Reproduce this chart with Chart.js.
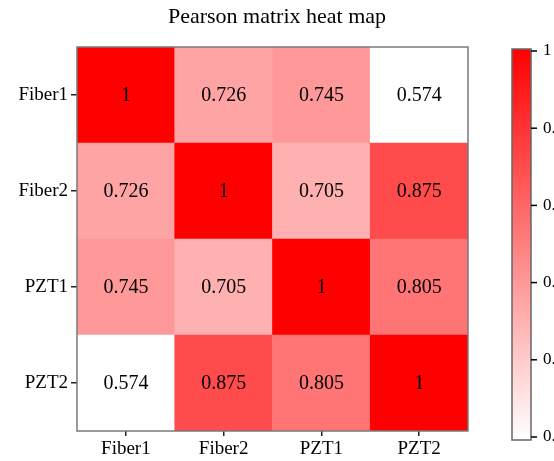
<!DOCTYPE html>
<html>
<head>
<meta charset="utf-8">
<script src="https://cdn.jsdelivr.net/npm/chart.js@4"></script>
<style>
  html, body { margin: 0; padding: 0; background: #fff; }
</style>
</head>
<body>
<canvas id="heat" width="554" height="461"></canvas>
<script>
const variables = ['Fiber1', 'Fiber2', 'PZT1', 'PZT2'];
const fiber1Row = [1, 0.726, 0.745, 0.574];
const fiber2Row = [0.726, 1, 0.705, 0.875];
const pzt1Row = [0.745, 0.705, 1, 0.805];
const pzt2Row = [0.574, 0.875, 0.805, 1];
const matrix = [fiber1Row, fiber2Row, pzt1Row, pzt2Row];
const colorbarTicks = [0.5, 0.6, 0.7, 0.8, 0.9, 1];

const SERIF = '"Liberation Serif", "Times New Roman", serif';
const allVals = matrix.flat();
const vMin = Math.min(...allVals);
const vMax = Math.max(...allVals);

function cellColor(v) {
    const t = (v - vMin) / (vMax - vMin);
    const g = Math.round(255 * (1 - t));
    return `rgb(255, ${g}, ${g})`;
}

// one stacked dataset per row, bottom row first
const datasets = matrix.slice().reverse().map((row, i) => ({
    label: variables[variables.length - 1 - i],
    data: row.map(() => 1),
    values: row,
    backgroundColor: row.map(cellColor),
    borderWidth: 0,
    barPercentage: 1,
    categoryPercentage: 1,
    stack: 'rows'
}));

const cellText = {
    id: 'cellText',
    afterDatasetsDraw(chart) {
        const ctx = chart.ctx;
        ctx.save();
        ctx.font = '20px ' + SERIF;
        ctx.fillStyle = '#000';
        ctx.textAlign = 'center';
        ctx.textBaseline = 'middle';
        chart.data.datasets.forEach((ds, di) => {
            chart.getDatasetMeta(di).data.forEach((bar, j) => {
                ctx.fillText(String(ds.values[j]), bar.x, (bar.y + bar.base) / 2 + 1);
            });
        });
        const a = chart.chartArea;
        ctx.strokeStyle = '#7a7a7a';
        ctx.lineWidth = 1.5;
        ctx.strokeRect(a.left, a.top, a.right - a.left, a.bottom - a.top);
        ctx.restore();
    }
};

const colorbar = {
    id: 'colorbar',
    afterDraw(chart) {
        const ctx = chart.ctx;
        const x0 = 512, x1 = 531, top = 49, bottom = 440;
        const yTop = 51, yBot = 437;
        ctx.save();
        const grad = ctx.createLinearGradient(0, bottom, 0, top);
        grad.addColorStop(0, 'rgb(255,255,255)');
        grad.addColorStop(1, 'rgb(255,0,0)');
        ctx.fillStyle = grad;
        ctx.fillRect(x0, top, x1 - x0, bottom - top);
        ctx.strokeStyle = '#666';
        ctx.lineWidth = 1.5;
        ctx.strokeRect(x0, top, x1 - x0, bottom - top);
        ctx.strokeStyle = '#000';
        ctx.lineWidth = 1.5;
        ctx.font = '17px ' + SERIF;
        ctx.fillStyle = '#000';
        ctx.textAlign = 'left';
        ctx.textBaseline = 'middle';
        const lo = colorbarTicks[0], hi = colorbarTicks[colorbarTicks.length - 1];
        colorbarTicks.forEach(v => {
            const y = yBot - (v - lo) / (hi - lo) * (yBot - yTop);
            ctx.beginPath();
            ctx.moveTo(x1, y);
            ctx.lineTo(x1 + 6, y);
            ctx.stroke();
            ctx.fillText(String(v), x1 + 12, y);
        });
        ctx.restore();
    }
};

new Chart(document.getElementById('heat'), {
    type: 'bar',
    data: { labels: variables, datasets: datasets },
    options: {
        responsive: false,
        animation: false,
        layout: { padding: 0 },
        plugins: {
            legend: { display: false },
            tooltip: { enabled: false },
            title: {
                display: true,
                text: 'Pearson matrix heat map',
                color: '#000',
                font: { family: SERIF, size: 22, weight: 'normal' },
                padding: { top: 4, bottom: 16.6 }
            }
        },
        scales: {
            x: {
                type: 'category',
                offset: true,
                grid: { display: true, offset: false, drawOnChartArea: false, tickLength: 5, color: '#222', lineWidth: 1.5 },
                border: { display: false },
                ticks: { color: '#000', padding: 2, font: { family: SERIF, size: 19 } },
                afterFit(scale) { scale.height = 30; }
            },
            y: {
                type: 'linear',
                stacked: true,
                min: 0,
                max: 4,
                display: false
            },
            yl: {
                type: 'category',
                labels: variables,
                position: 'left',
                offset: true,
                grid: { display: true, offset: false, drawOnChartArea: false, tickLength: 6, color: '#222', lineWidth: 1.5 },
                border: { display: false },
                ticks: { color: '#000', padding: 3, font: { family: SERIF, size: 19 } },
                afterFit(scale) { scale.width = 77; }
            },
            // empty right-hand axis that reserves room for the colour bar
            cbSpace: {
                type: 'linear',
                position: 'right',
                display: true,
                grid: { display: false },
                border: { display: false },
                ticks: { display: false },
                afterFit(scale) { scale.width = 86; }
            }
        }
    },
    plugins: [cellText, colorbar]
});
</script>
</body>
</html>
